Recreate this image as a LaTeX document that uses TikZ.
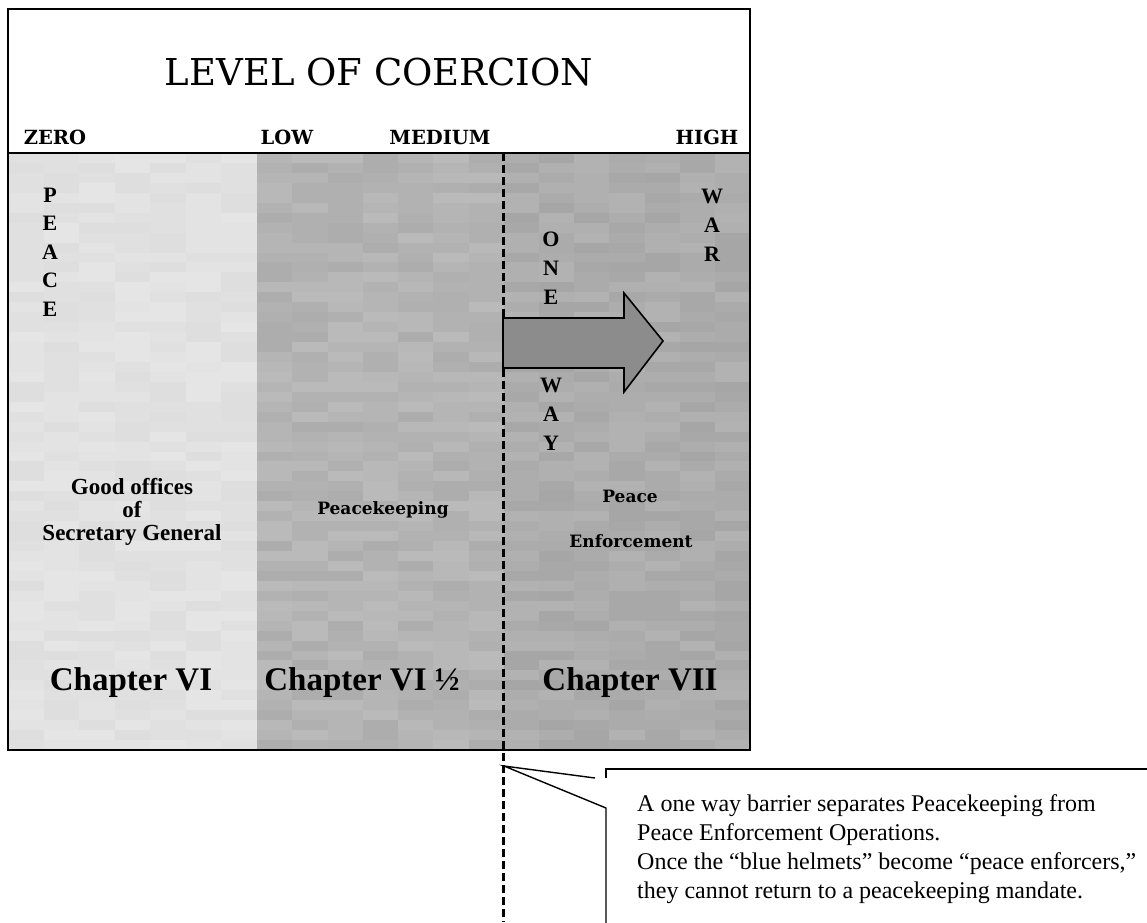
\documentclass[tikz,border=0pt]{standalone}
\usepackage{fontspec}
\setmainfont{Liberation Serif}
\newfontfamily\slab{DejaVu Serif}
\begin{document}
\begin{tikzpicture}[x=1pt,y=-1pt,
  frame/.style={draw=black,line width=2pt},
  headlbl/.style={font=\slab\bfseries\fontsize{19.5}{22}\selectfont,inner sep=0pt,anchor=base},
  vletter/.style={font=\bfseries\fontsize{22}{24}\selectfont,inner sep=0pt,anchor=center},
  actlbl/.style={font=\slab\bfseries\fontsize{17}{20}\selectfont,inner sep=0pt,anchor=base},
  goodlbl/.style={font=\bfseries\fontsize{23}{23}\selectfont,inner sep=0pt,align=center},
  chaplbl/.style={font=\bfseries\fontsize{33}{36}\selectfont,inner sep=0pt,anchor=base},
  barrier/.style={line width=3pt,dash pattern=on 8pt off 4pt},
  callout/.style={line width=1.4pt,line join=miter},
  notetext/.style={font=\fontsize{24}{29}\selectfont,inner sep=0pt,align=left,anchor=north west}]
\useasboundingbox (0,0) rectangle (1147,922);
\fill[white] (0,0) rectangle (1147,922);

% three coercion zones, each with a faint streaky texture
\pgfmathsetseed{4242}
\foreach \xa/\xb/\base/\amp in {8/257/12/1.8, 257/504/30/3, 504/750/33/3}{
  \pgfmathsetmacro{\cw}{(\xb-\xa)/7}
  \foreach \i in {0,...,6}{
    \foreach \j in {0,...,59}{
      \pgfmathtruncatemacro{\g}{\base+\amp*rand}
      \fill[black!\g] ({\xa+\i*\cw},{153+\j*9.95}) rectangle ({\xa+(\i+1)*\cw+0.6},{153+(\j+1)*9.95+0.6});
    }
  }
}

% frame and header rule
\draw[frame] (8,9) rectangle (750,750);
\draw[frame] (8,153) -- (750,153);

% title and coercion scale
\node[font=\slab\fontsize{37}{40}\selectfont,inner sep=0pt,anchor=base] (title) at (379,85) {LEVEL OF COERCION};
\node[headlbl] (zero) at (55,144) {ZERO};
\node[headlbl] (low) at (287,144) {LOW};
\node[headlbl] (medium) at (440,144) {MEDIUM};
\node[headlbl] (high) at (707,144) {HIGH};

% vertical words
\foreach \c [count=\k] in {P,E,A,C,E}
  \node[vletter] (peace\k) at (50,{195+28.5*(\k-1)}) {\c};
\foreach \c [count=\k] in {O,N,E}
  \node[vletter] (one\k) at (551,{239+29*(\k-1)}) {\c};
\foreach \c [count=\k] in {W,A,Y}
  \node[vletter] (way\k) at (551,{385+29*(\k-1)}) {\c};
\foreach \c [count=\k] in {W,A,R}
  \node[vletter] (war\k) at (712,{196+29*(\k-1)}) {\c};

% one-way barrier
\coordinate (bartop) at (503,153);
\coordinate (barbot) at (503,922);
\draw[barrier] (bartop) -- (barbot);

% one-way arrow across the barrier
\draw[fill=black!45,line width=1.6pt,line join=miter]
  (503,318) -- (624,318) -- (624,293) -- (663,341) -- (624,392) -- (624,368) -- (503,368) -- cycle;

% activities
\node[goodlbl] (good) at (132,512) {Good offices\\of\\Secretary General};
\node[actlbl] (pk) at (383,514) {Peacekeeping};
\node[actlbl] (pe1) at (630,502) {Peace};
\node[actlbl] (pe2) at (631,547) {Enforcement};

% charter chapters
\node[chaplbl] (ch6) at (131,690) {Chapter VI};
\node[chaplbl] (ch6h) at (362,690) {Chapter VI ½};
\node[chaplbl] (ch7) at (630,690) {Chapter VII};

% callout on the barrier
\coordinate (tip) at (504,766);
\coordinate (upper) at (595,778);
\coordinate (lower) at (606,808);
\coordinate (corner) at (606,769);
\draw[callout] (upper) -- (tip) -- (lower) -- (606,930);
\draw[callout] (606,778) -- (corner) -- (1150,769);
\node[notetext] (note) at (637,794) {A one way barrier separates Peacekeeping from\\Peace Enforcement Operations.\\Once the “blue helmets” become “peace enforcers,”\\they cannot return to a peacekeeping mandate.};
\end{tikzpicture}
\end{document}
